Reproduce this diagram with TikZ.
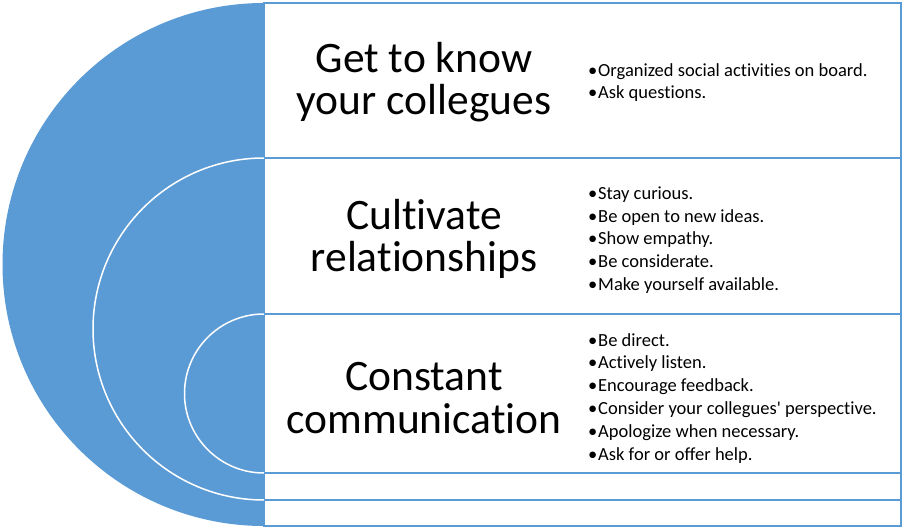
\documentclass[tikz,border=0pt]{standalone}
\usepackage{fontspec}
\setmainfont{Carlito}[Ligatures={NoCommon}]
\usetikzlibrary{positioning}
\definecolor{ringblue}{RGB}{91, 155, 213}
\newcommand{\bul}{\makebox[10pt][l]{\textbullet}}
\tikzset{
  title/.style={align=center, font=\fontsize{43.5}{42.5}\selectfont, anchor=base, inner sep=0pt},
  points/.style={align=left, font=\fontsize{18.5}{22.8}\selectfont, anchor=base west, inner sep=0pt}
}

\begin{document}
\begin{tikzpicture}[x=1pt, y=1pt]
  \useasboundingbox (0, 0) rectangle (904, -529);

  \fill[ringblue] (264, -3) arc[start angle=90, end angle=270, radius=261.5pt] -- cycle;

  \foreach \ya/\yb in {3/526, 158/500, 314/473} {
    \draw[ringblue, line width=2, fill=white] (264, -\ya) rectangle (901, -\yb);
  }

  \draw[white, line width=1.5] (264, -158) arc[start angle=90, end angle=270, radius=171pt];
  \draw[white, line width=1.5] (264, -314) arc[start angle=90, end angle=270, radius=79.5pt];

  \node[title] (know) at (424, -115) {Get to know\\your collegues};
  \node[title] (cultivate) at (424, -272) {Cultivate\\relationships};
  \node[title] (talk) at (424, -433) {Constant\\communication};

  \node[points] (knowlist) at (588, -99)
    {\bul Organized social activities on board.\\\bul Ask questions.};
  \node[points] (cultivatelist) at (588, -290.5)
    {\bul Stay curious.\\\bul Be open to new ideas.\\\bul Show empathy.\\
     \bul Be considerate.\\\bul Make yourself available.};
  \node[points] (talklist) at (588, -460)
    {\bul Be direct.\\\bul Actively listen.\\\bul Encourage feedback.\\
     \bul Consider your collegues\textquotesingle{} perspective.\\\bul Apologize when necessary.\\
     \bul Ask for or offer help.};
\end{tikzpicture}
\end{document}
